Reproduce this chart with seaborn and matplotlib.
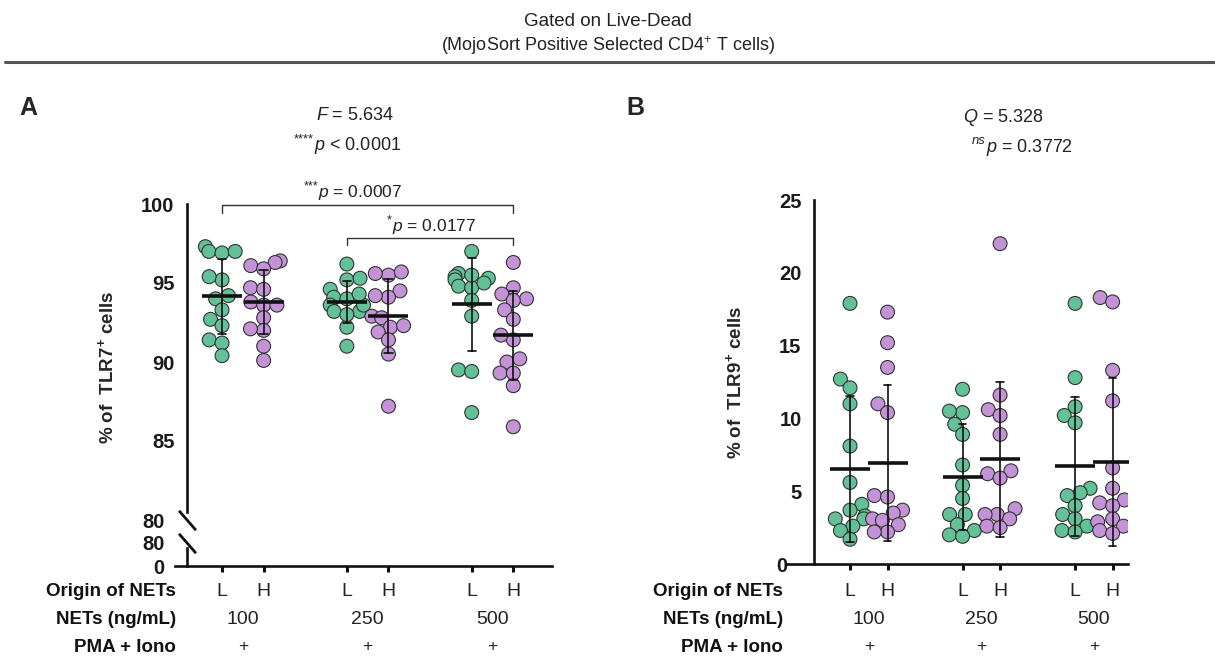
import numpy as np
import pandas as pd
import matplotlib
matplotlib.use("Agg")
import matplotlib.pyplot as plt
from matplotlib.transforms import blended_transform_factory as btf, offset_copy
import seaborn as sns

# ---------------- data ----------------
conditions = ["L100", "H100", "L250", "H250", "L500", "H500"]
origin_labels = ["L", "H", "L", "H", "L", "H"]
dose_labels = ["100", "250", "500"]
pma_labels = ["+", "+", "+"]

tlr7_L100 = [97.3, 97.0, 96.9, 97.0, 95.2, 95.4, 94.2, 94.0, 93.3, 92.7, 92.3, 91.4, 91.2, 90.4]
tlr7_H100 = [96.4, 96.3, 96.1, 95.9, 94.7, 94.6, 93.8, 93.6, 93.6, 92.8, 92.0, 92.1, 91.0, 90.1]
tlr7_L250 = [96.2, 95.2, 95.3, 94.6, 94.1, 94.0, 93.6, 93.2, 93.2, 92.2, 91.0, 93.6, 94.3, 93.0]
tlr7_H250 = [95.5, 95.6, 95.7, 94.5, 94.1, 92.9, 92.8, 92.2, 92.3, 91.9, 91.4, 90.5, 87.2, 94.2]
tlr7_L500 = [97.0, 95.6, 95.4, 95.2, 94.8, 94.7, 93.9, 92.9, 89.5, 89.4, 86.8, 95.5, 95.3, 95.0]
tlr7_H500 = [96.3, 94.7, 94.3, 94.0, 93.9, 93.3, 92.7, 91.4, 91.7, 90.0, 90.2, 89.3, 89.3, 88.5, 85.9]

tlr9_L100 = [17.9, 12.7, 12.1, 11.0, 8.1, 5.6, 4.1, 3.7, 3.3, 3.1, 3.1, 2.6, 2.3, 1.7]
tlr9_H100 = [17.3, 15.2, 13.5, 11.0, 10.4, 4.7, 4.6, 3.7, 3.5, 3.1, 3.0, 2.7, 2.2, 2.2]
tlr9_L250 = [12.0, 10.4, 10.5, 9.6, 8.9, 6.8, 5.4, 4.5, 3.4, 3.4, 2.7, 2.3, 2.0, 1.9]
tlr9_H250 = [22.0, 11.6, 10.6, 10.2, 8.9, 6.4, 6.2, 5.9, 3.8, 3.4, 3.4, 3.1, 2.6, 2.5]
tlr9_L500 = [17.9, 12.8, 10.8, 10.2, 9.7, 5.2, 4.9, 4.7, 4.0, 3.4, 3.1, 2.6, 2.3, 2.2]
tlr9_H500 = [18.3, 18.0, 13.3, 11.2, 6.6, 5.2, 4.4, 4.2, 4.0, 3.1, 2.9, 2.6, 2.3, 2.1]

tlr7 = [tlr7_L100, tlr7_H100, tlr7_L250, tlr7_H250, tlr7_L500, tlr7_H500]
tlr9 = [tlr9_L100, tlr9_H100, tlr9_L250, tlr9_H250, tlr9_L500, tlr9_H500]

yticksA = [80, 85, 90, 95, 100]
yticksA_low = [0, 80]
yticksB = [0, 5, 10, 15, 20, 25]


def make_df(groups):
    rows = []
    for cond, org, vals in zip(conditions, origin_labels, groups):
        for v in vals:
            rows.append({"cond": cond, "origin": org, "value": v})
    return pd.DataFrame(rows)


dfA = make_df(tlr7)
dfB = make_df(tlr9)

# category order with gaps between dose groups
order = ["L100", "H100", "_g1", "L250", "H250", "_g2", "L500", "H500"]
pos = {c: order.index(c) for c in conditions}
group_centers = [(pos[conditions[2 * i]] + pos[conditions[2 * i + 1]]) / 2 for i in range(3)]

GREEN = "#62C197"
PURPLE = "#C492D6"
palette = {"L": GREEN, "H": PURPLE}
EDGE = "#333333"
TXT = "#222222"

# ---------------- style ----------------
sns.set_theme(style="white")
plt.rcParams["font.family"] = ["Liberation Sans", "DejaVu Sans"]
plt.rcParams["mathtext.fontset"] = "custom"
plt.rcParams["mathtext.rm"] = "Liberation Sans"
plt.rcParams["mathtext.it"] = "Liberation Sans:italic"
plt.rcParams["mathtext.bf"] = "Liberation Sans:bold"

W, H = 1215, 657
fig = plt.figure(figsize=(W / 100, H / 100), dpi=100)


def fx(px):
    return px / W


def fy(py):
    return 1 - py / H


SPINE_W = 1.9
TICK_FS = 14.5


def style_axis(ax, yticks):
    for s in ["top", "right"]:
        ax.spines[s].set_visible(False)
    for s in ["left", "bottom"]:
        ax.spines[s].set_linewidth(SPINE_W)
        ax.spines[s].set_color("#111111")
    ax.set_yticks(yticks)
    ax.set_yticklabels([str(t) for t in yticks])
    ax.tick_params(axis="y", direction="out", length=6, width=1.6, color="#111111", pad=3,
                   labelsize=TICK_FS, labelcolor="#1a1a1a")
    ax.set_xlabel("")
    ax.set_ylabel("")
    ax.grid(False)
    ax.set_facecolor("none")


def bold_ticks(ax):
    for t in ax.yaxis.get_major_ticks():
        t.label1.set_fontweight("bold")
        t.label1.set_fontsize(TICK_FS)


def draw_points(ax, df):
    sns.swarmplot(data=df, x="cond", y="value", hue="origin", order=order,
                  palette=palette, size=8.3, edgecolor=EDGE, linewidth=0.8,
                  legend=False, ax=ax, zorder=2)
    colls = list(ax.collections)
    sns.pointplot(data=df, x="cond", y="value", order=order, errorbar="sd",
                  color="#111111", marker="_", markersize=29, markeredgewidth=2.6,
                  linestyle="none", capsize=0.2, err_kws={"linewidth": 1.2},
                  ax=ax)
    for ln in ax.lines:
        ln.set_zorder(5)
    return colls


# ---------------- Panel A ----------------
A_left, A_right = 175, 552
xlimA = (-1.13, 7.93)
axA = fig.add_axes([fx(A_left), fy(520), fx(A_right - A_left), fy(204) - fy(520)])
swarmA = draw_points(axA, dfA)
axA.set_xlim(*xlimA)
axA.set_ylim(80, 100)
style_axis(axA, yticksA)
axA.spines["bottom"].set_visible(False)
axA.spines["left"].set_position(("data", -0.84))
axA.spines["left"].set_bounds(80.5, 100)
axA.set_xticks([])

axA2 = fig.add_axes([fx(A_left), fy(566), fx(A_right - A_left), fy(543) - fy(566)])
axA2.set_xlim(*xlimA)
axA2.set_ylim(0, 80)
style_axis(axA2, yticksA_low)
axA2.spines["left"].set_position(("data", -0.84))
axA2.spines["left"].set_bounds(0, 64)
axA2.set_xticks([pos[c] for c in conditions])
axA2.set_xticklabels([])
axA2.tick_params(axis="x", direction="out", length=4, width=2.2, color="#111111", bottom=True)

# break marks
brk = dict(marker=[(-1, 1.15), (1, -1.15)], markersize=14, linestyle="none",
           color="#111111", mec="#111111", mew=2.0, clip_on=False, zorder=6)
axA.plot([-0.84], [80], **brk)
axA2.plot([-0.84], [80], **brk)

axA.set_ylabel("% of  TLR7$^{\\mathbf{+}}$ cells", fontsize=13.5, fontweight="bold")
axA.yaxis.set_label_coords((117 - A_left) / (A_right - A_left), (520 - 367) / (520 - 204))


def bracket(ax, c1, c2, y_top, y_leg):
    x1, x2 = pos[c1], pos[c2]
    ax.plot([x1, x1, x2, x2], [y_leg, y_top, y_top, y_leg], color="#333333",
            lw=1.0, clip_on=False, zorder=6)


bracket(axA, "L100", "H500", 99.94, 99.45)
bracket(axA, "L250", "H500", 97.85, 97.4)

# ---------------- Panel B ----------------
B_left, B_right = 787, 1128
xlimB = (-1.68, 7.41)
axB = fig.add_axes([fx(B_left), fy(564), fx(B_right - B_left), fy(200) - fy(564)])
swarmB = draw_points(axB, dfB)
axB.set_xlim(*xlimB)
axB.set_ylim(0, 25)
style_axis(axB, yticksB)
axB.spines["left"].set_position(("data", -0.96))
axB.set_xticks([pos[c] for c in conditions])
axB.set_xticklabels([])
axB.tick_params(axis="x", direction="out", length=4, width=2.2, color="#111111", bottom=True)
axB.set_ylabel("% of  TLR9$^{\\mathbf{+}}$ cells", fontsize=13.5, fontweight="bold")
axB.yaxis.set_label_coords((745 - B_left) / (B_right - B_left), 0.5)

# ---------------- category table under x axes ----------------
row_y = [592, 620, 647]
row_names = ["Origin of NETs", "NETs (ng/mL)", "PMA + Iono"]
for ax, xright in [(axA2, 176), (axB, 783)]:
    tr = btf(ax.transData, fig.transFigure)
    for c, lab in zip(conditions, origin_labels):
        ax.text(pos[c], fy(row_y[0]), lab, transform=tr, ha="center", va="center",
                fontsize=14, color=TXT)
    for gc, d, p in zip(group_centers, dose_labels, pma_labels):
        ax.text(gc, fy(row_y[1]), d, transform=tr, ha="center", va="center",
                fontsize=14, color=TXT)
        ax.text(gc, fy(row_y[2]), p, transform=tr, ha="center", va="center",
                fontsize=12.5, color=TXT)
    for ry, name in zip(row_y, row_names):
        fig.text(fx(xright), fy(ry), name, ha="right", va="center", fontsize=13.5,
                 fontweight="bold", color="#111111")

# ---------------- header & annotations ----------------
fig.text(fx(608), fy(22), "Gated on Live-Dead", ha="center", va="center", fontsize=13.5,
         color=TXT)
fig.text(fx(608), fy(46), "(MojoSort Positive Selected CD4$^{+}$ T cells)", ha="center",
         va="center", fontsize=13, color=TXT)
fig.add_artist(plt.Line2D([fx(5), fx(1215)], [fy(62), fy(62)], color="#555555", lw=2.2))

fig.text(fx(28), fy(108), "A", fontsize=18, fontweight="bold", ha="center", va="center")
fig.text(fx(635), fy(108), "B", fontsize=18, fontweight="bold", ha="center", va="center")


def sup_text(xj, yb, sup, main, fs=13, sup_italic=False):
    """superscript label ending at xj followed by main text, baseline at yb (px)."""
    raised = offset_copy(fig.transFigure, fig=fig, y=fs * 0.42, units="points")
    fig.text(fx(xj), fy(yb), sup, transform=raised, ha="right", va="baseline",
             fontsize=fs * 0.72, color=TXT, style="italic" if sup_italic else "normal")
    fig.text(fx(xj), fy(yb), main, ha="left", va="baseline", fontsize=fs, color=TXT)


fig.text(fx(355), fy(120), "$\\mathit{F}$ = 5.634", ha="center", va="baseline", fontsize=13,
         color=TXT)
sup_text(314, 150, "****", "$\\mathit{p}$ < 0.0001")
fig.text(fx(1003), fy(122), "$\\mathit{Q}$ = 5.328", ha="center", va="baseline", fontsize=13,
         color=TXT)
sup_text(986, 152, "ns", "$\\mathit{p}$ = 0.3772", sup_italic=True)

sup_text(318, 197, "***", "$\\mathit{p}$ = 0.0007", fs=12.5)
sup_text(392, 231, "*", "$\\mathit{p}$ = 0.0177", fs=12.5)

# ---------------- compute swarm with small markers, then enlarge ----------------
fig.canvas.draw()
for coll in swarmA + swarmB:
    if "draw" in coll.__dict__:
        del coll.__dict__["draw"]
    coll.set_sizes([10.0 ** 2])

for ax in (axA, axA2, axB):
    bold_ticks(ax)
# tick marks at the break are replaced by the slash marks
axA.yaxis.get_major_ticks()[0].tick1line.set_visible(False)
axA2.yaxis.get_major_ticks()[1].tick1line.set_visible(False)
# labels near the x axis sit further left, clear of the axis line
axA2.yaxis.get_major_ticks()[0].set_pad(10)
axA2.yaxis.get_major_ticks()[1].set_pad(10)
axA.yaxis.get_major_ticks()[0].set_pad(10)
axB.yaxis.get_major_ticks()[0].set_pad(13)

fig.savefig("out.png", dpi=100, facecolor="white")
